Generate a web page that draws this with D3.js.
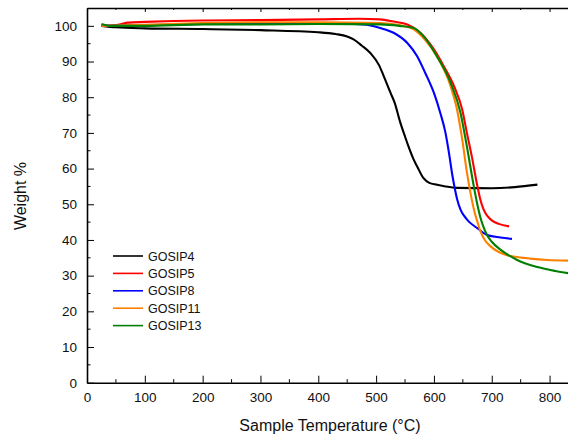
<!DOCTYPE html>
<html>
<head>
<meta charset="utf-8">
<script src="https://cdn.jsdelivr.net/npm/d3@7"></script>
<style>
  body { margin: 0; background: #fff; }
  text { font-family: "Liberation Sans", Arial, sans-serif; fill: #111; }
</style>
</head>
<body>
<div id="chart"></div>
<script>
// TGA curves, values
var names = ["GOSIP4", "GOSIP5", "GOSIP8", "GOSIP11", "GOSIP13"];
var colors = ["#000000", "#ff0000", "#0000ff", "#ff8000", "#008000"];

var temp4 = [25, 50, 100, 200, 300, 400, 430, 450, 461, 475, 490, 505, 513, 525, 532, 542, 550, 556, 565, 571, 582, 592, 605, 620, 640, 700, 740, 779];
var wt4   = [100, 99.6, 99.3, 99.1, 98.8, 98.2, 97.7, 97, 96.2, 94.5, 92.4, 89, 86, 81.2, 78.5, 72.8, 69, 66.2, 62.5, 60.6, 57.3, 56, 55.5, 55, 54.6, 54.5, 54.8, 55.5];

var temp5 = [25, 50, 70, 100, 200, 300, 400, 470, 507, 530, 554, 577, 600, 617, 635, 649, 657, 666, 674, 680, 686, 692, 700, 712, 730];
var wt5   = [100, 100.2, 100.9, 101.1, 101.5, 101.6, 101.8, 102, 101.8, 101.2, 100.4, 98, 93.4, 88.7, 83, 76.5, 70, 63, 56, 51.5, 48.5, 46.8, 45.5, 44.5, 43.8];

var temp8 = [25, 100, 200, 300, 400, 478, 507, 531, 554, 571, 585, 600, 611, 620, 626, 632, 636, 640, 646, 652, 660, 675, 692, 715, 735];
var wt8   = [100, 100.2, 100.5, 100.8, 100.8, 100.4, 99.4, 98, 95.2, 91.5, 86.8, 81.2, 75.6, 70, 64.4, 58, 54.5, 51.5, 48.5, 46.8, 45.2, 43.3, 41.4, 40.7, 40.3];

var temp11 = [25, 100, 200, 300, 400, 507, 540, 565, 585, 605, 629, 640, 649, 657, 664, 670, 675, 680, 688, 698, 709, 725, 744, 770, 796, 832];
var wt11   = [100, 100.3, 100.8, 101, 101, 100.8, 100.2, 99, 96, 91.5, 83, 76.5, 68.1, 59, 52.5, 48, 45.2, 42.6, 40, 38.2, 36.9, 35.8, 35.2, 34.7, 34.4, 34.2];

var temp13 = [25, 40, 100, 200, 300, 400, 507, 540, 565, 585, 605, 629, 646, 657, 669, 675, 680, 686, 692, 700, 715, 744, 779, 810, 832];
var wt13   = [100.5, 100, 100, 100.4, 100.4, 100.5, 100.4, 100, 99.4, 96.5, 91.5, 84, 75.6, 66.2, 55, 50, 46.5, 43.5, 41.3, 39.5, 37.3, 34.4, 32.4, 31.3, 30.7];

var xTicks = [0, 100, 200, 300, 400, 500, 600, 700, 800];
var yTicks = [0, 10, 20, 30, 40, 50, 60, 70, 80, 90, 100];

var seriesT = [temp4, temp5, temp8, temp11, temp13];
var seriesW = [wt4, wt5, wt8, wt11, wt13];

var width = 568, height = 436;
var svg = d3.select('#chart').append('svg')
        .attr('width', width)
        .attr('height', height);

var x = d3.scaleLinear().domain([0, 831]).range([87, 567.5]);
var y = d3.scaleLinear().domain([0, 105]).range([382.7, 8]);

var line = d3.line()
        .x(d => x(d[0]))
        .y(d => y(d[1]))
        .curve(d3.curveMonotoneX);

var plot = svg.append('g');
plot.append('clipPath').attr('id', 'clip')
    .append('rect').attr('x', 87).attr('y', 8).attr('width', 482).attr('height', 375);

var curves = plot.append('g').attr('clip-path', 'url(#clip)');
names.forEach(function(n, i) {
    var pts = seriesT[i].map((t, j) => [t, seriesW[i][j]]);
    curves.append('path')
        .datum(pts)
        .attr('d', line)
        .attr('fill', 'none')
        .attr('stroke', colors[i])
        .attr('stroke-width', 2.1)
        .attr('stroke-linejoin', 'round');
});

// minor ticks
var xMinor = d3.range(50, 831, 100);
var yMinor = d3.range(5, 105, 10);

// bottom axis
var gx = svg.append('g').attr('transform', 'translate(0,' + y(0) + ')');
gx.call(d3.axisBottom(x).tickValues(xTicks).tickSizeInner(-7).tickSizeOuter(0).tickPadding(10));
gx.append('g').selectAll('line').data(xMinor).enter().append('line')
    .attr('x1', d => x(d)).attr('x2', d => x(d))
    .attr('y1', 0).attr('y2', -3.5).attr('stroke', '#000');

// top frame
var gt = svg.append('g').attr('transform', 'translate(0,' + y(105) + ')');
gt.call(d3.axisTop(x).tickValues(xTicks).tickSizeInner(-4).tickSizeOuter(0).tickFormat(''));
gt.append('g').selectAll('line').data(xMinor).enter().append('line')
    .attr('x1', d => x(d)).attr('x2', d => x(d))
    .attr('y1', 0).attr('y2', 2).attr('stroke', '#000');

// left axis
var gy = svg.append('g').attr('transform', 'translate(' + x(0) + ',0)');
gy.call(d3.axisLeft(y).tickValues(yTicks).tickSizeInner(-7).tickSizeOuter(0).tickPadding(10));
gy.append('g').selectAll('line').data(yMinor).enter().append('line')
    .attr('y1', d => y(d)).attr('y2', d => y(d))
    .attr('x1', 0).attr('x2', 3.5).attr('stroke', '#000');

svg.selectAll('.domain').attr('stroke', '#000').attr('stroke-width', 1.6);
svg.selectAll('.tick line').attr('stroke', '#000');
svg.selectAll('.tick text')
    .style('font-family', '"Liberation Sans", Arial, sans-serif')
    .style('font-size', '13.5px')
    .attr('fill', '#111');

// axis titles
svg.append('text')
    .attr('x', 330).attr('y', 431)
    .attr('text-anchor', 'middle')
    .style('font-size', '16px')
    .text('Sample Temperature (°C)');

svg.append('text')
    .attr('transform', 'translate(26,196) rotate(-90)')
    .attr('text-anchor', 'middle')
    .style('font-size', '16px')
    .text('Weight %');

// legend
var legend = svg.append('g');
var lg = legend.selectAll('g').data(names).enter().append('g')
    .attr('transform', (d, i) => 'translate(113,' + (256 + i * 17.4) + ')');
lg.append('line')
    .attr('x1', 0).attr('x2', 30).attr('y1', 0).attr('y2', 0)
    .attr('stroke', (d, i) => colors[i]).attr('stroke-width', 1.6);
lg.append('text')
    .attr('x', 35).attr('y', 4.5)
    .style('font-size', '12.5px')
    .text(d => d);
</script>
</body>
</html>
